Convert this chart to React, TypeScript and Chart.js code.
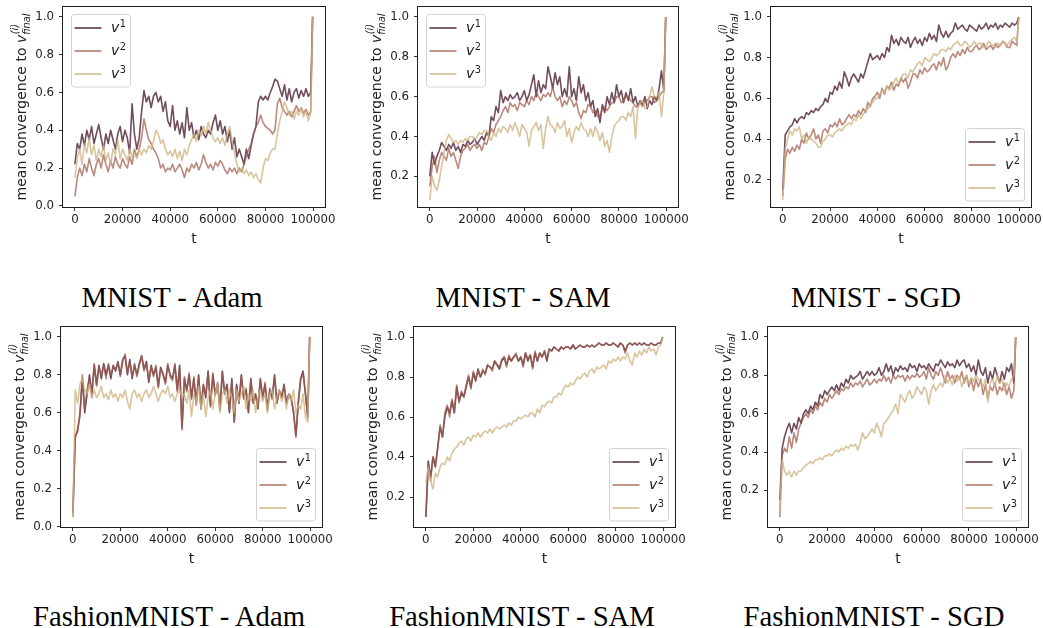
import React, { useEffect, useRef } from 'react';
import { Chart, registerables } from 'chart.js';

Chart.register(...registerables);

// training step (x values)
const T = [
  0, 1000, 2000, 3000, 4000, 5000, 6000, 7000, 8000, 9000,
  10000, 11000, 12000, 13000, 14000, 15000, 16000, 17000, 18000, 19000,
  20000, 21000, 22000, 23000, 24000, 25000, 26000, 27000, 28000, 29000,
  30000, 31000, 32000, 33000, 34000, 35000, 36000, 37000, 38000, 39000,
  40000, 41000, 42000, 43000, 44000, 45000, 46000, 47000, 48000, 49000,
  50000, 51000, 52000, 53000, 54000, 55000, 56000, 57000, 58000, 59000,
  60000, 61000, 62000, 63000, 64000, 65000, 66000, 67000, 68000, 69000,
  70000, 71000, 72000, 73000, 74000, 75000, 76000, 77000, 78000, 79000,
  80000, 81000, 82000, 83000, 84000, 85000, 86000, 87000, 88000, 89000,
  90000, 91000, 92000, 93000, 94000, 95000, 96000, 97000, 98000, 99000,
  99800,
];

const SERIES_SUP = ['1', '2', '3'];
const SERIES_LABELS = ['v¹', 'v²', 'v³'];
const X_TICKS = [0, 20000, 40000, 60000, 80000, 100000];
const Y_TICKS = [0.0, 0.2, 0.4, 0.6, 0.8, 1.0];

// ---------- MNIST - Adam ----------
const mnistAdamV1 = [
  0.22, 0.33, 0.30, 0.38, 0.32, 0.40, 0.35, 0.42, 0.33, 0.38,
  0.43, 0.36, 0.30, 0.38, 0.33, 0.40, 0.35, 0.30, 0.38, 0.42,
  0.34, 0.40, 0.36, 0.28, 0.54, 0.38, 0.30, 0.36, 0.50, 0.61,
  0.55, 0.58, 0.52, 0.58, 0.60, 0.55, 0.58, 0.50, 0.55, 0.45,
  0.42, 0.53, 0.40, 0.45, 0.38, 0.44, 0.36, 0.52, 0.40, 0.44,
  0.36, 0.40, 0.35, 0.42, 0.38, 0.36, 0.40, 0.38, 0.44, 0.48,
  0.40, 0.45, 0.38, 0.42, 0.34, 0.40, 0.30, 0.36, 0.26, 0.30,
  0.26, 0.22, 0.30, 0.25, 0.32, 0.38, 0.42, 0.55, 0.58, 0.56,
  0.58, 0.56, 0.60, 0.63, 0.67, 0.66, 0.62, 0.58, 0.64, 0.56,
  0.62, 0.55, 0.60, 0.62, 0.57, 0.61, 0.58, 0.62, 0.58, 0.60,
  1.0,
];
const mnistAdamV2 = [
  0.05, 0.15, 0.20, 0.16, 0.22, 0.18, 0.25, 0.20, 0.16, 0.22,
  0.25, 0.20, 0.27, 0.22, 0.18, 0.24, 0.20, 0.26, 0.22, 0.20,
  0.25, 0.22, 0.20, 0.26, 0.22, 0.30, 0.26, 0.30, 0.36, 0.46,
  0.40, 0.35, 0.33, 0.30, 0.28, 0.25, 0.20, 0.22, 0.18, 0.20,
  0.19, 0.22, 0.18, 0.20, 0.22, 0.19, 0.15, 0.20, 0.18, 0.22,
  0.20, 0.23, 0.19, 0.22, 0.27, 0.23, 0.20, 0.22, 0.19, 0.23,
  0.21, 0.24, 0.22, 0.19, 0.17, 0.20, 0.18, 0.20, 0.17, 0.20,
  0.18, 0.22, 0.26, 0.30, 0.33, 0.38, 0.42, 0.44, 0.48, 0.44,
  0.42, 0.41, 0.40, 0.38, 0.40, 0.54, 0.57, 0.52, 0.50, 0.48,
  0.50, 0.47, 0.50, 0.53, 0.50, 0.52, 0.49, 0.51, 0.48, 0.50,
  1.0,
];
const mnistAdamV3 = [
  0.15, 0.25, 0.30, 0.22, 0.33, 0.28, 0.36, 0.27, 0.32, 0.24,
  0.30, 0.26, 0.32, 0.24, 0.28, 0.22, 0.30, 0.27, 0.35, 0.25,
  0.30, 0.27, 0.24, 0.30, 0.26, 0.28, 0.25, 0.30, 0.27, 0.30,
  0.28, 0.32, 0.30, 0.34, 0.40, 0.38, 0.33, 0.35, 0.30, 0.27,
  0.29, 0.26, 0.30, 0.25, 0.29, 0.24, 0.30, 0.27, 0.32, 0.35,
  0.38, 0.34, 0.40, 0.37, 0.42, 0.38, 0.44, 0.40, 0.36, 0.34,
  0.36, 0.33, 0.36, 0.32, 0.38, 0.42, 0.34, 0.28, 0.22, 0.18,
  0.20, 0.17, 0.19, 0.16, 0.18, 0.15, 0.17, 0.14, 0.12, 0.20,
  0.25, 0.24, 0.28, 0.30, 0.30, 0.38, 0.45, 0.50, 0.55, 0.52,
  0.48, 0.50, 0.46, 0.50, 0.48, 0.52, 0.47, 0.50, 0.45, 0.49,
  1.0,
];

// ---------- MNIST - SAM ----------
const mnistSamV1 = [
  0.20, 0.32, 0.26, 0.30, 0.33, 0.37, 0.35, 0.33, 0.36, 0.34,
  0.37, 0.33, 0.35, 0.32, 0.36, 0.35, 0.38, 0.36, 0.37, 0.39,
  0.36, 0.38, 0.40, 0.38, 0.42, 0.40, 0.50, 0.48, 0.55, 0.52,
  0.63, 0.57, 0.60, 0.58, 0.61, 0.59, 0.60, 0.62, 0.58, 0.60,
  0.63, 0.58, 0.61, 0.66, 0.71, 0.60, 0.68, 0.62, 0.66, 0.64,
  0.75, 0.70, 0.64, 0.72, 0.66, 0.70, 0.60, 0.64, 0.60, 0.75,
  0.60, 0.64, 0.58, 0.70, 0.62, 0.66, 0.58, 0.62, 0.55, 0.58,
  0.50, 0.54, 0.47, 0.56, 0.52, 0.60, 0.56, 0.62, 0.57, 0.66,
  0.60, 0.63, 0.57, 0.62, 0.58, 0.64, 0.57, 0.60, 0.55, 0.58,
  0.56, 0.60, 0.54, 0.58, 0.56, 0.60, 0.58, 0.64, 0.73, 0.63,
  1.0,
];
const mnistSamV2 = [
  0.15, 0.25, 0.30, 0.22, 0.28, 0.32, 0.30, 0.28, 0.34, 0.30,
  0.32, 0.28, 0.24, 0.30, 0.33, 0.34, 0.36, 0.33, 0.35, 0.36,
  0.34, 0.36, 0.33, 0.37, 0.36, 0.40, 0.44, 0.42, 0.46, 0.48,
  0.50, 0.53, 0.55, 0.52, 0.57, 0.55, 0.56, 0.53, 0.57, 0.56,
  0.55, 0.58, 0.56, 0.60, 0.58, 0.62, 0.60, 0.58, 0.61, 0.60,
  0.62, 0.60, 0.65, 0.60, 0.58, 0.60, 0.55, 0.58, 0.56, 0.60,
  0.58, 0.55, 0.57, 0.52, 0.49, 0.53, 0.52, 0.56, 0.55, 0.52,
  0.53, 0.50, 0.50, 0.54, 0.55, 0.53, 0.55, 0.57, 0.57, 0.60,
  0.60, 0.57, 0.58, 0.60, 0.60, 0.58, 0.57, 0.55, 0.55, 0.57,
  0.55, 0.58, 0.58, 0.60, 0.60, 0.57, 0.58, 0.60, 0.62, 0.63,
  1.0,
];
const mnistSamV3 = [
  0.08, 0.20, 0.15, 0.13, 0.18, 0.25, 0.32, 0.38, 0.41, 0.39,
  0.37, 0.38, 0.36, 0.38, 0.37, 0.39, 0.38, 0.40, 0.40, 0.38,
  0.40, 0.42, 0.41, 0.43, 0.43, 0.40, 0.38, 0.42, 0.40, 0.44,
  0.42, 0.45, 0.44, 0.42, 0.46, 0.43, 0.47, 0.44, 0.40, 0.46,
  0.44, 0.42, 0.35, 0.43, 0.45, 0.47, 0.43, 0.46, 0.34, 0.44,
  0.50, 0.46, 0.45, 0.42, 0.47, 0.44, 0.45, 0.48, 0.40, 0.44,
  0.37, 0.42, 0.45, 0.43, 0.47, 0.44, 0.43, 0.40, 0.44, 0.40,
  0.45, 0.42, 0.38, 0.42, 0.35, 0.38, 0.32, 0.40, 0.45, 0.47,
  0.48, 0.50, 0.50, 0.48, 0.52, 0.50, 0.55, 0.39, 0.55, 0.57,
  0.58, 0.54, 0.55, 0.60, 0.65, 0.60, 0.60, 0.62, 0.50, 0.62,
  1.0,
];

// ---------- MNIST - SGD ----------
const mnistSgdV1 = [
  0.15, 0.42, 0.44, 0.46, 0.47, 0.50, 0.48, 0.50, 0.51, 0.50,
  0.53, 0.52, 0.54, 0.53, 0.55, 0.54, 0.56, 0.57, 0.60, 0.58,
  0.63, 0.62, 0.66, 0.64, 0.68, 0.65, 0.73, 0.70, 0.66, 0.70,
  0.72, 0.70, 0.68, 0.72, 0.70, 0.74, 0.78, 0.82, 0.79, 0.80,
  0.81, 0.79, 0.82, 0.80, 0.85, 0.83, 0.91, 0.87, 0.89, 0.86,
  0.90, 0.88, 0.87, 0.90, 0.85, 0.88, 0.90, 0.87, 0.89, 0.86,
  0.90, 0.88, 0.92, 0.89, 0.91, 0.88, 0.96, 0.92, 0.90, 0.93,
  0.90, 0.92, 0.93, 0.97, 0.94, 0.95, 0.96, 0.94, 0.93, 0.96,
  0.95, 0.94, 0.93, 0.96, 0.94, 0.95, 0.97, 0.94, 0.96, 0.95,
  0.97, 0.94, 0.96, 0.95, 0.97, 0.96, 0.95, 0.97, 0.96, 0.97,
  1.0,
];
const mnistSgdV2 = [
  0.12, 0.30, 0.35, 0.33, 0.36, 0.34, 0.37, 0.35, 0.40, 0.38,
  0.43, 0.40, 0.42, 0.45, 0.40, 0.42, 0.38, 0.44, 0.45, 0.43,
  0.47, 0.46, 0.48, 0.46, 0.50, 0.47, 0.48, 0.50, 0.52, 0.50,
  0.52, 0.51, 0.54, 0.52, 0.55, 0.53, 0.58, 0.56, 0.60, 0.61,
  0.63, 0.60, 0.65, 0.62, 0.66, 0.65, 0.68, 0.64, 0.67, 0.66,
  0.70, 0.68, 0.70, 0.65, 0.68, 0.72, 0.72, 0.70, 0.74, 0.72,
  0.75, 0.73, 0.74, 0.76, 0.77, 0.74, 0.78, 0.76, 0.80, 0.74,
  0.76, 0.80, 0.82, 0.80, 0.83, 0.81, 0.84, 0.82, 0.85, 0.83,
  0.83, 0.85, 0.86, 0.84, 0.85, 0.87, 0.84, 0.85, 0.86, 0.84,
  0.87, 0.85, 0.86, 0.88, 0.87, 0.85, 0.85, 0.88, 0.87, 0.86,
  1.0,
];
const mnistSgdV3 = [
  0.10, 0.35, 0.40, 0.44, 0.42, 0.45, 0.44, 0.46, 0.40, 0.42,
  0.38, 0.41, 0.40, 0.39, 0.38, 0.36, 0.36, 0.39, 0.40, 0.42,
  0.42, 0.41, 0.43, 0.44, 0.45, 0.44, 0.46, 0.47, 0.48, 0.47,
  0.50, 0.49, 0.52, 0.50, 0.52, 0.54, 0.55, 0.57, 0.58, 0.60,
  0.60, 0.62, 0.64, 0.63, 0.66, 0.64, 0.65, 0.68, 0.70, 0.67,
  0.70, 0.72, 0.72, 0.70, 0.74, 0.73, 0.75, 0.77, 0.78, 0.76,
  0.80, 0.79, 0.78, 0.80, 0.82, 0.81, 0.82, 0.84, 0.84, 0.83,
  0.85, 0.84, 0.86, 0.87, 0.88, 0.86, 0.86, 0.88, 0.87, 0.85,
  0.86, 0.88, 0.86, 0.87, 0.87, 0.85, 0.85, 0.88, 0.87, 0.86,
  0.85, 0.87, 0.86, 0.88, 0.87, 0.86, 0.88, 0.89, 0.90, 0.88,
  1.0,
];

// ---------- FashionMNIST - Adam ----------
const fashionAdamV1 = [
  0.07, 0.48, 0.50, 0.60, 0.78, 0.60, 0.70, 0.80, 0.70, 0.85,
  0.75, 0.85, 0.78, 0.86, 0.80, 0.85, 0.78, 0.85, 0.82, 0.87,
  0.80, 0.88, 0.90, 0.80, 0.88, 0.78, 0.85, 0.80, 0.86, 0.90,
  0.83, 0.87, 0.76, 0.85, 0.80, 0.84, 0.74, 0.84, 0.80, 0.76,
  0.85, 0.80, 0.78, 0.85, 0.72, 0.85, 0.52, 0.78, 0.72, 0.80,
  0.68, 0.78, 0.65, 0.80, 0.62, 0.75, 0.68, 0.82, 0.64, 0.80,
  0.70, 0.75, 0.62, 0.82, 0.70, 0.75, 0.60, 0.78, 0.55, 0.75,
  0.65, 0.80, 0.68, 0.72, 0.60, 0.78, 0.65, 0.70, 0.62, 0.78,
  0.68, 0.75, 0.62, 0.72, 0.68, 0.80, 0.65, 0.72, 0.68, 0.75,
  0.65, 0.70, 0.68, 0.60, 0.48, 0.65, 0.78, 0.82, 0.70, 0.58,
  1.0,
];
const fashionAdamV2 = [
  0.05, 0.46, 0.52, 0.58, 0.80, 0.62, 0.72, 0.78, 0.68, 0.86,
  0.74, 0.84, 0.80, 0.85, 0.78, 0.86, 0.80, 0.84, 0.83, 0.86,
  0.79, 0.87, 0.91, 0.81, 0.87, 0.79, 0.86, 0.79, 0.85, 0.90,
  0.82, 0.86, 0.77, 0.84, 0.79, 0.85, 0.73, 0.83, 0.81, 0.75,
  0.86, 0.79, 0.77, 0.86, 0.71, 0.84, 0.51, 0.79, 0.71, 0.81,
  0.67, 0.79, 0.64, 0.79, 0.63, 0.74, 0.69, 0.81, 0.63, 0.81,
  0.69, 0.76, 0.61, 0.81, 0.71, 0.74, 0.61, 0.77, 0.56, 0.74,
  0.66, 0.79, 0.67, 0.73, 0.61, 0.77, 0.66, 0.69, 0.63, 0.77,
  0.67, 0.76, 0.61, 0.73, 0.67, 0.79, 0.66, 0.71, 0.69, 0.74,
  0.66, 0.69, 0.67, 0.61, 0.47, 0.66, 0.77, 0.81, 0.71, 0.57,
  1.0,
];
const fashionAdamV3 = [
  0.05, 0.72, 0.65, 0.75, 0.78, 0.72, 0.70, 0.75, 0.68, 0.72,
  0.68, 0.70, 0.74, 0.68, 0.70, 0.67, 0.72, 0.68, 0.70, 0.66,
  0.70, 0.68, 0.72, 0.66, 0.62, 0.70, 0.72, 0.68, 0.70, 0.66,
  0.70, 0.72, 0.68, 0.70, 0.74, 0.70, 0.66, 0.70, 0.72, 0.70,
  0.74, 0.68, 0.70, 0.66, 0.70, 0.72, 0.68, 0.70, 0.65, 0.72,
  0.58, 0.70, 0.65, 0.74, 0.62, 0.70, 0.58, 0.68, 0.72, 0.62,
  0.70, 0.75, 0.60, 0.70, 0.72, 0.65, 0.72, 0.68, 0.60, 0.72,
  0.66, 0.70, 0.74, 0.62, 0.70, 0.66, 0.72, 0.60, 0.68, 0.72,
  0.66, 0.70, 0.60, 0.70, 0.72, 0.62, 0.68, 0.72, 0.66, 0.70,
  0.62, 0.70, 0.66, 0.72, 0.60, 0.64, 0.62, 0.70, 0.58, 0.55,
  1.0,
];

// ---------- FashionMNIST - SAM ----------
const fashionSamV1 = [
  0.10, 0.38, 0.30, 0.40, 0.35, 0.45, 0.55, 0.50, 0.60, 0.65,
  0.62, 0.68, 0.62, 0.75, 0.68, 0.72, 0.70, 0.75, 0.80, 0.75,
  0.82, 0.78, 0.84, 0.80, 0.83, 0.82, 0.86, 0.85, 0.84, 0.88,
  0.86, 0.84, 0.88, 0.90, 0.86, 0.90, 0.88, 0.90, 0.91, 0.88,
  0.90, 0.86, 0.92, 0.88, 0.91, 0.85, 0.92, 0.88, 0.92, 0.90,
  0.93, 0.88, 0.94, 0.93, 0.95, 0.94, 0.93, 0.95, 0.94, 0.95,
  0.95, 0.94, 0.96, 0.94, 0.95, 0.96, 0.95, 0.95, 0.96, 0.95,
  0.96, 0.95, 0.96, 0.97, 0.96, 0.96, 0.97, 0.96, 0.96, 0.97,
  0.96, 0.95, 0.97, 0.96, 0.93, 0.96, 0.97, 0.96, 0.97, 0.96,
  0.97, 0.96, 0.97, 0.96, 0.96, 0.97, 0.96, 0.96, 0.97, 0.97,
  1.0,
];
const fashionSamV2 = [
  0.10, 0.36, 0.28, 0.40, 0.36, 0.44, 0.56, 0.50, 0.62, 0.66,
  0.60, 0.69, 0.63, 0.76, 0.67, 0.73, 0.70, 0.76, 0.81, 0.74,
  0.83, 0.79, 0.83, 0.80, 0.84, 0.81, 0.86, 0.85, 0.83, 0.88,
  0.86, 0.85, 0.89, 0.90, 0.85, 0.91, 0.88, 0.90, 0.92, 0.88,
  0.90, 0.85, 0.92, 0.89, 0.91, 0.84, 0.93, 0.88, 0.92, 0.90,
  0.93, 0.89, 0.94, 0.93, 0.95, 0.94, 0.93, 0.95, 0.94, 0.95,
  0.95, 0.94, 0.96, 0.94, 0.95, 0.96, 0.95, 0.95, 0.96, 0.95,
  0.96, 0.95, 0.96, 0.97, 0.96, 0.96, 0.97, 0.96, 0.96, 0.97,
  0.96, 0.95, 0.97, 0.96, 0.92, 0.96, 0.97, 0.96, 0.97, 0.96,
  0.97, 0.96, 0.97, 0.96, 0.96, 0.97, 0.96, 0.96, 0.97, 0.97,
  1.0,
];
const fashionSamV3 = [
  0.27, 0.35, 0.28, 0.24, 0.32, 0.30, 0.35, 0.37, 0.36, 0.40,
  0.38, 0.42, 0.44, 0.45, 0.47, 0.48, 0.46, 0.49, 0.50, 0.48,
  0.51, 0.50, 0.52, 0.50, 0.52, 0.53, 0.52, 0.54, 0.52, 0.54,
  0.55, 0.54, 0.55, 0.56, 0.55, 0.57, 0.56, 0.58, 0.58, 0.60,
  0.59, 0.60, 0.61, 0.60, 0.62, 0.62, 0.60, 0.64, 0.62, 0.66,
  0.65, 0.67, 0.68, 0.67, 0.70, 0.70, 0.72, 0.71, 0.74, 0.76,
  0.75, 0.77, 0.76, 0.78, 0.80, 0.79, 0.81, 0.82, 0.80, 0.83,
  0.84, 0.82, 0.85, 0.84, 0.85, 0.86, 0.84, 0.88, 0.87, 0.89,
  0.88, 0.90, 0.88, 0.90, 0.89, 0.92, 0.88, 0.86, 0.92, 0.90,
  0.93, 0.91, 0.94, 0.92, 0.95, 0.93, 0.94, 0.91, 0.95, 0.96,
  1.0,
];

// ---------- FashionMNIST - SGD ----------
const fashionSgdV1 = [
  0.15, 0.42, 0.48, 0.52, 0.55, 0.50, 0.55, 0.52, 0.58, 0.55,
  0.60, 0.62, 0.60, 0.64, 0.62, 0.66, 0.64, 0.70, 0.68, 0.72,
  0.70, 0.72, 0.74, 0.72, 0.75, 0.72, 0.76, 0.74, 0.78, 0.76,
  0.80, 0.78, 0.79, 0.80, 0.82, 0.78, 0.80, 0.82, 0.80, 0.82,
  0.80, 0.81, 0.84, 0.80, 0.82, 0.86, 0.82, 0.85, 0.80, 0.84,
  0.82, 0.85, 0.83, 0.84, 0.82, 0.86, 0.84, 0.85, 0.82, 0.86,
  0.84, 0.85, 0.83, 0.86, 0.84, 0.82, 0.86, 0.85, 0.88, 0.86,
  0.84, 0.87, 0.85, 0.86, 0.84, 0.88, 0.85, 0.87, 0.88, 0.84,
  0.86, 0.82, 0.85, 0.80, 0.88, 0.82, 0.80, 0.84, 0.76, 0.82,
  0.78, 0.84, 0.80, 0.76, 0.82, 0.78, 0.84, 0.82, 0.86, 0.76,
  1.0,
];
const fashionSgdV2 = [
  0.06, 0.38, 0.42, 0.40, 0.48, 0.42, 0.50, 0.45, 0.52, 0.55,
  0.58, 0.60, 0.58, 0.62, 0.60, 0.64, 0.62, 0.66, 0.64, 0.68,
  0.66, 0.70, 0.68, 0.70, 0.72, 0.70, 0.73, 0.72, 0.74, 0.73,
  0.76, 0.74, 0.76, 0.75, 0.77, 0.74, 0.76, 0.78, 0.75, 0.76,
  0.78, 0.76, 0.78, 0.77, 0.80, 0.77, 0.79, 0.76, 0.80, 0.78,
  0.80, 0.79, 0.80, 0.77, 0.80, 0.78, 0.80, 0.79, 0.81, 0.79,
  0.80, 0.82, 0.78, 0.84, 0.80, 0.78, 0.82, 0.80, 0.84, 0.80,
  0.76, 0.82, 0.78, 0.80, 0.76, 0.80, 0.78, 0.82, 0.76, 0.80,
  0.74, 0.78, 0.72, 0.78, 0.74, 0.78, 0.70, 0.75, 0.68, 0.74,
  0.72, 0.76, 0.70, 0.74, 0.72, 0.76, 0.70, 0.74, 0.68, 0.72,
  1.0,
];
const fashionSgdV3 = [
  0.10, 0.36, 0.30, 0.28, 0.30, 0.27, 0.30, 0.28, 0.30, 0.30,
  0.32, 0.33, 0.34, 0.35, 0.34, 0.36, 0.36, 0.37, 0.36, 0.38,
  0.38, 0.39, 0.38, 0.40, 0.41, 0.40, 0.42, 0.41, 0.43, 0.42,
  0.44, 0.43, 0.44, 0.41, 0.45, 0.50, 0.47, 0.48, 0.50, 0.52,
  0.50, 0.55, 0.52, 0.48, 0.55, 0.56, 0.58, 0.60, 0.62, 0.65,
  0.60, 0.70, 0.68, 0.66, 0.70, 0.72, 0.68, 0.70, 0.74, 0.72,
  0.70, 0.74, 0.72, 0.65, 0.72, 0.75, 0.72, 0.74, 0.76, 0.74,
  0.80, 0.76, 0.78, 0.75, 0.80, 0.77, 0.79, 0.74, 0.78, 0.80,
  0.76, 0.79, 0.77, 0.80, 0.78, 0.76, 0.74, 0.78, 0.66, 0.76,
  0.78, 0.74, 0.80, 0.76, 0.78, 0.72, 0.76, 0.74, 0.78, 0.80,
  1.0,
];

// ---------- styling / layout ----------
const COLORS = ['rgba(98,58,75,0.9)', 'rgba(160,92,75,0.72)', 'rgba(205,180,130,0.78)'];
const TEXT = '#222222';
const Y_AXIS_W = 62;
const X_AXIS_H = 46;
const PAD_T = 7;
const PAD_R = 12;

const PANELS = [
  { caption: 'MNIST - Adam', series: [mnistAdamV1, mnistAdamV2, mnistAdamV3], l: 63, t: 7, r: 325, b: 207, yMin: -0.006, yMax: 1.052, legend: 'tl', capX: 172, capBase: 307 },
  { caption: 'MNIST - SAM', series: [mnistSamV1, mnistSamV2, mnistSamV3], l: 418, t: 7, r: 678, b: 207, yMin: 0.046, yMax: 1.05, legend: 'tl', capX: 523, capBase: 307 },
  { caption: 'MNIST - SGD', series: [mnistSgdV1, mnistSgdV2, mnistSgdV3], l: 771, t: 7, r: 1031, b: 207, yMin: 0.066, yMax: 1.049, legend: 'br', capX: 876, capBase: 307 },
  { caption: 'FashionMNIST - Adam', series: [fashionAdamV1, fashionAdamV2, fashionAdamV3], l: 61, t: 327, r: 322, b: 527, yMin: -0.002, yMax: 1.052, legend: 'br', capX: 169, capBase: 626 },
  { caption: 'FashionMNIST - SAM', series: [fashionSamV1, fashionSamV2, fashionSamV3], l: 414, t: 327, r: 675, b: 527, yMin: 0.05, yMax: 1.05, legend: 'br', capX: 522, capBase: 626 },
  { caption: 'FashionMNIST - SGD', series: [fashionSgdV1, fashionSgdV2, fashionSgdV3], l: 768, t: 327, r: 1028, b: 527, yMin: 0.009, yMax: 1.052, legend: 'br', capX: 874, capBase: 626 },
];

const decorPlugin = {
  id: 'decor',
  afterDatasetsDraw(chart: any) {
    const { ctx, chartArea: ca } = chart;
    ctx.save();
    ctx.strokeStyle = '#1e1e1e';
    ctx.lineWidth = 1;
    ctx.strokeRect(Math.round(ca.left) - 0.5, Math.round(ca.top) - 0.5, Math.round(ca.right - ca.left) + 1, Math.round(ca.bottom - ca.top) + 1);
    ctx.restore();
  },
  afterDraw(chart: any, _args: any, opts: any) {
    const { ctx, chartArea: ca } = chart;
    // y axis title with super/subscript
    ctx.save();
    ctx.translate(ca.left - 37, (ca.top + ca.bottom) / 2);
    ctx.rotate(-Math.PI / 2);
    ctx.fillStyle = TEXT;
    ctx.textBaseline = 'alphabetic';
    ctx.textAlign = 'left';
    const fMain = "14px 'DejaVu Sans'";
    const fIt = "italic 14px 'DejaVu Sans'";
    const fSm = "italic 9.8px 'DejaVu Sans'";
    const main = 'mean convergence to ';
    ctx.font = fMain;
    const wMain = ctx.measureText(main).width;
    ctx.font = fIt;
    const wV = ctx.measureText('v').width;
    ctx.font = fSm;
    const wSup = ctx.measureText('(i)').width;
    const wSub = ctx.measureText('final').width;
    const total = wMain + wV + Math.max(wSup, wSub);
    let x = -total / 2;
    ctx.font = fMain;
    ctx.fillText(main, x, 0);
    x += wMain;
    ctx.font = fIt;
    ctx.fillText('v', x, 0);
    x += wV;
    ctx.font = fSm;
    ctx.fillText('(i)', x + 0.5, -8);
    ctx.fillText('final', x, 4);
    ctx.restore();

    // legend
    const LW = 59;
    const LH = 72.5;
    let lx: number;
    let ly: number;
    if (opts.legend === 'tl') {
      lx = ca.left + 8;
      ly = ca.top + 7;
    } else {
      lx = ca.right - 7 - LW;
      ly = ca.bottom - 6.5 - LH;
    }
    ctx.save();
    ctx.beginPath();
    if (ctx.roundRect) ctx.roundRect(Math.round(lx) + 0.5, Math.round(ly) + 0.5, LW, LH, 3);
    else ctx.rect(Math.round(lx) + 0.5, Math.round(ly) + 0.5, LW, LH);
    ctx.fillStyle = 'rgba(255,255,255,0.8)';
    ctx.fill();
    ctx.strokeStyle = '#d2d2d2';
    ctx.lineWidth = 1;
    ctx.stroke();
    SERIES_SUP.forEach((sup, i) => {
      const cy = ly + 14 + i * 23;
      ctx.strokeStyle = COLORS[i];
      ctx.lineWidth = 1.8;
      ctx.beginPath();
      ctx.moveTo(lx + 3.5, cy);
      ctx.lineTo(lx + 30.5, cy);
      ctx.stroke();
      ctx.fillStyle = TEXT;
      ctx.textBaseline = 'alphabetic';
      ctx.textAlign = 'left';
      ctx.font = "italic 14px 'DejaVu Sans'";
      ctx.fillText('v', lx + 40, cy + 4);
      const wv = ctx.measureText('v').width;
      ctx.font = "9.8px 'DejaVu Sans'";
      ctx.fillText(sup, lx + 40 + wv + 0.5, cy - 1);
    });
    ctx.restore();
  },
};

function Panel({ p }: { p: any }) {
  const ref = useRef<HTMLCanvasElement | null>(null);
  const cw = p.r - p.l + Y_AXIS_W + PAD_R;
  const ch = p.b - p.t + PAD_T + X_AXIS_H;

  useEffect(() => {
    if (!ref.current) return;
    const tickFont = { family: 'DejaVu Sans', size: 11.8 };
    const gridOpts = { display: true, drawOnChartArea: false, drawTicks: true, tickLength: 4, color: '#333333', lineWidth: 1 };
    const chart = new Chart(ref.current, {
      type: 'line',
      data: {
        datasets: p.series.map((vals: number[], i: number) => ({
          label: SERIES_LABELS[i],
          data: T.map((t, j) => ({ x: t, y: vals[j] })),
          borderColor: COLORS[i],
          backgroundColor: COLORS[i],
          borderWidth: 1.6,
          borderJoinStyle: 'round',
          pointRadius: 0,
          tension: 0,
          fill: false,
          order: 2 - i,
        })),
      },
      options: {
        animation: false,
        responsive: false,
        maintainAspectRatio: false,
        devicePixelRatio: 1,
        events: [],
        layout: { padding: { left: 0, top: PAD_T, right: PAD_R, bottom: 0 } },
        plugins: {
          legend: { display: false },
          tooltip: { enabled: false },
          decor: { legend: p.legend },
        } as any,
        scales: {
          x: {
            type: 'linear',
            bounds: 'data',
            min: -5000,
            max: 105000,
            border: { display: false },
            grid: gridOpts,
            ticks: {
              autoSkip: false,
              maxRotation: 0,
              minRotation: 0,
              padding: 2,
              color: TEXT,
              font: tickFont,
              callback: (v: any) => String(v),
            },
            afterBuildTicks: (s: any) => {
              s.ticks = X_TICKS.map((v) => ({ value: v }));
            },
            title: { display: true, text: 't', color: TEXT, font: { family: 'DejaVu Sans', size: 14 }, padding: { top: 0, bottom: 5 } },
            afterFit: (s: any) => {
              s.height = X_AXIS_H;
              s.paddingLeft = 0;
              s.paddingRight = 0;
            },
          },
          y: {
            type: 'linear',
            bounds: 'data',
            min: p.yMin,
            max: p.yMax,
            border: { display: false },
            grid: gridOpts,
            ticks: {
              autoSkip: false,
              padding: 5,
              color: TEXT,
              font: tickFont,
              callback: (v: any) => Number(v).toFixed(1),
            },
            afterBuildTicks: (s: any) => {
              s.ticks = Y_TICKS.filter((v) => v >= p.yMin && v <= p.yMax).map((v) => ({ value: v }));
            },
            afterFit: (s: any) => {
              s.width = Y_AXIS_W;
              s.paddingTop = 0;
              s.paddingBottom = 0;
            },
          },
        },
      } as any,
      plugins: [decorPlugin],
    });
    return () => chart.destroy();
  }, [p]);

  return (
    <canvas
      ref={ref}
      width={cw}
      height={ch}
      style={{ position: 'absolute', left: p.l - Y_AXIS_W, top: p.t - PAD_T, width: cw, height: ch, display: 'block' }}
    />
  );
}

export default function App() {
  return (
    <div style={{ position: 'absolute', left: 0, top: 0, width: 1043, height: 628, overflow: 'hidden', background: '#ffffff' }}>
      {PANELS.map((p, i) => (
        <Panel key={i} p={p} />
      ))}
      {PANELS.map((p, i) => (
        <div
          key={'cap' + i}
          style={{
            position: 'absolute',
            left: p.capX - 250,
            width: 500,
            top: p.capBase - 24,
            textAlign: 'center',
            fontFamily: "'Liberation Serif', 'Times New Roman', serif",
            fontSize: '28.7px',
            lineHeight: '28.7px',
            color: '#000',
            whiteSpace: 'nowrap',
          }}
        >
          {p.caption}
        </div>
      ))}
    </div>
  );
}
